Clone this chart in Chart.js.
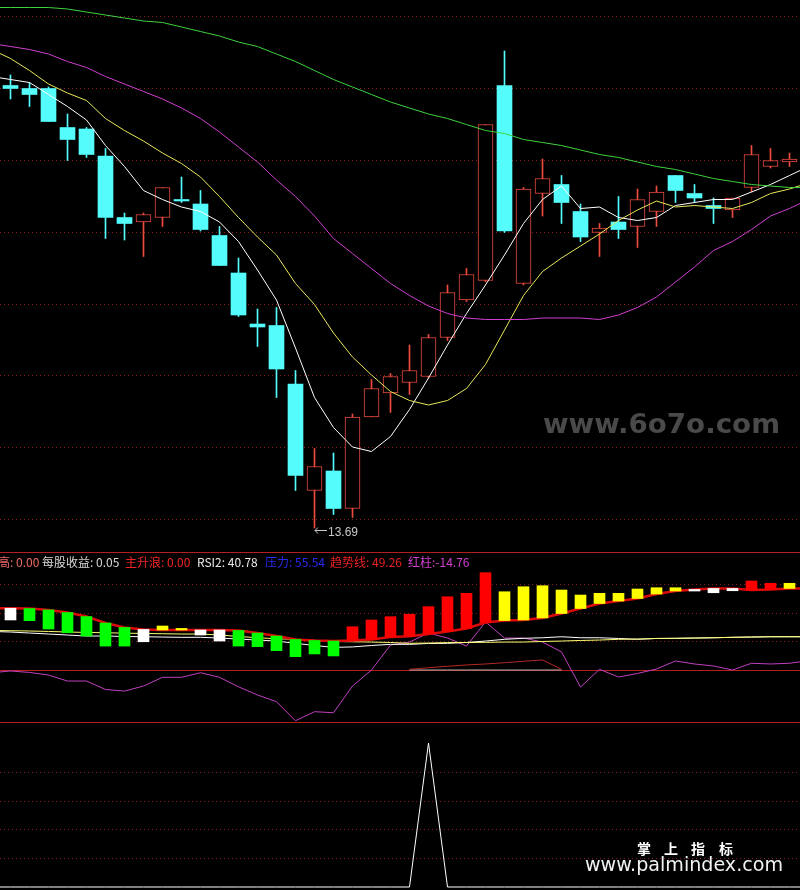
<!DOCTYPE html>
<html lang="zh-CN">
<head>
<meta charset="UTF-8">
<meta name="viewport" content="width=device-width, initial-scale=1.0">
<title>主升浪 日线</title>
<script src="https://cdn.jsdelivr.net/npm/chart.js"></script>
<style>
  html, body { margin: 0; padding: 0; background: #000; }
  body { width: 800px; height: 890px; overflow: hidden; }
  .pane { width: 800px; }
  .pane + .pane { border-top: 1px solid #b41e1e; }
  canvas { display: block; }
</style>
</head>
<body>
<div class="pane"><canvas id="kChart" width="800" height="552"></canvas></div>
<div class="pane"><canvas id="zsChart" width="800" height="169"></canvas></div>
<div class="pane"><canvas id="sigChart" width="800" height="167"></canvas></div>
<script>
// ---- 日K线, 42 根 ----
var opens  = [16.64,16.62,16.62,16.36,16.35,16.17,15.76,15.73,15.76,15.88,15.85,15.64,15.39,15.05,15.04,14.65,13.94,14.07,13.82,14.43,14.59,
              14.66,14.70,14.96,15.21,15.34,16.64,15.32,15.92,15.98,15.80,15.66,15.73,15.70,15.80,16.04,15.92,15.84,15.81,15.96,16.10,16.13];
var highs  = [16.71,16.66,16.63,16.45,16.36,16.22,15.79,15.79,15.96,16.03,15.94,15.70,15.49,15.15,15.16,14.74,14.22,14.19,14.45,14.68,14.72,
              14.91,14.98,15.31,15.42,16.38,16.87,15.96,16.15,16.04,15.85,15.72,15.90,15.95,15.97,16.04,15.98,15.89,15.89,16.24,16.22,16.19];
var lows   = [16.55,16.50,16.40,16.14,16.16,15.62,15.61,15.50,15.70,15.86,15.67,15.44,15.10,14.90,14.56,13.94,13.69,13.78,13.76,14.43,14.46,
              14.58,14.69,14.94,15.20,15.33,15.66,15.31,15.77,15.72,15.60,15.50,15.62,15.56,15.70,15.86,15.86,15.72,15.76,15.93,16.09,16.10];
var closes = [16.62,16.58,16.40,16.28,16.18,15.76,15.72,15.78,15.96,15.87,15.68,15.44,15.11,15.03,14.75,14.04,14.10,13.82,14.43,14.62,14.70,
              14.74,14.96,15.26,15.38,16.38,15.67,15.95,16.02,15.86,15.63,15.69,15.68,15.88,15.93,15.94,15.89,15.82,15.89,16.18,16.14,16.15];

// 均线: 从第 -1 根到第 42 根 (两头各多一根, 铺满画面)
var ma5  = [16.70,16.68,16.66,16.58,16.50,16.41,16.24,16.10,15.94,15.88,15.83,15.80,15.73,15.60,15.41,15.21,14.89,14.56,14.36,14.23,14.20,14.30,
            14.48,14.69,14.91,15.12,15.31,15.51,15.72,15.88,15.97,15.82,15.83,15.76,15.74,15.76,15.84,15.86,15.88,15.88,15.93,15.98,16.04,16.10];
var ma10 = [16.88,16.82,16.74,16.65,16.59,16.54,16.42,16.34,16.27,16.19,16.12,16.03,15.90,15.76,15.63,15.51,15.32,15.18,14.99,14.83,14.71,14.60,
            14.54,14.51,14.54,14.62,14.78,15.01,15.24,15.40,15.49,15.57,15.65,15.74,15.81,15.87,15.83,15.84,15.83,15.82,15.86,15.92,15.95,15.99];
var ma20 = [16.92,16.90,16.88,16.85,16.80,16.76,16.70,16.65,16.60,16.55,16.49,16.42,16.33,16.23,16.13,16.01,15.90,15.77,15.62,15.52,15.42,15.32,
            15.24,15.17,15.12,15.09,15.08,15.08,15.08,15.09,15.09,15.09,15.08,15.11,15.16,15.23,15.33,15.43,15.54,15.60,15.68,15.77,15.82,15.88];
var ma60 = [17.16,17.16,17.16,17.16,17.15,17.13,17.11,17.09,17.07,17.06,17.03,17.00,16.97,16.93,16.90,16.85,16.80,16.74,16.68,16.63,16.58,16.53,
            16.49,16.45,16.42,16.38,16.34,16.32,16.28,16.26,16.24,16.21,16.18,16.16,16.13,16.10,16.08,16.05,16.02,16.00,15.98,15.97,15.96,15.96];

// ---- 副图 主升浪 ----
var trendLine  = [43.1,43.1,42.9,41.9,40.1,37.3,32.8,29.7,28.3,27.9,27.9,27.9,27.9,27.6,25.8,23.7,21.3,20.6,20.2,20.6,21.3,23.0,
                  23.5,25.1,26.9,29.0,33.1,34.5,34.9,36.3,39.4,42.9,46.4,48.1,49.9,53.0,55.1,56.2,56.9,56.9,55.8,56.2,56.9,56.9];
var barEnd     = [34.9,34.4,28.6,26.0,23.7,16.7,16.7,19.7,30.7,29.0,24.4,20.2,16.7,16.3,13.5,9.3,11.2,9.8,30.2,34.9,37.2,
                  38.9,44.2,51.1,53.5,67.9,54.6,58.1,58.8,55.8,52.3,53.5,53.5,56.5,57.4,57.4,55.1,53.9,55.3,62.1,60.5,60.5];
var barKind    = 'WGGGGGGWYYWWGGGGGGRRRRRRRRYYYYYYYYYYWWWRRY'.split('');
var whiteLine  = [26.9,26.5,25.8,25.1,24.4,23.7,23.7,23.4,23.2,23.0,22.8,22.8,22.3,21.6,20.9,20.2,18.6,17.1,15.8,16.1,17.1,17.9,
                  17.9,18.5,18.6,19.2,20.2,21.4,22.1,22.5,23.2,22.5,22.5,22.0,21.4,22.0,22.1,22.3,22.5,22.8,23.0,23.2,23.2,23.2];
var yellowLine = [27.6,27.4,27.2,26.9,26.5,26.2,26.0,25.7,25.5,25.3,25.1,25.1,24.4,23.4,22.5,21.8,21.4,20.7,19.9,19.7,19.5,19.2,
                  18.6,18.8,19.1,19.2,19.3,19.5,19.5,19.9,20.2,20.6,20.9,21.4,21.6,22.0,22.1,22.3,22.5,22.8,23.0,23.2,23.2,23.2];
var rsiLine    = [-1.9,-0.7,-1.7,-3.5,-7.7,-7.7,-13.6,-14.7,-11.2,-5.1,-5.1,-1.9,-5.1,-11.7,-17.4,-22.1,-35.4,-29.1,-29.8,-11.2,0.0,17.4,
                  19.5,25.8,22.3,16.7,33.5,22.3,22.3,19.5,12.6,-11.9,0.5,-4.9,-2.4,0.7,6.3,4.2,2.8,0.0,4.7,4.2,4.7,6.5];
var subStart   = 21;
var subLine    = [0.5,1.6,2.6,3.5,4.2,5.1,6.1,7.0,0.5];
var subBase    = [0,0,0,0,0,0,0,0,0];
var legendLabels = ['高', '每股收益', '主升浪', 'RSI2', '压力', '趋势线', '红柱'];
var legendValues = ['0.00', '0.05', '0.00', '40.78', '55.54', '49.26', '-14.76'];

// ---- 第三图 信号 (第 -1 到 42 根) ----
var spike = [0,0,0,0,0,0,0,0,0,0, 0,0,0,0,0,0,0,0,0,0, 0,0,0,1,0,0,0,0,0,0, 0,0,0,0,0,0,0,0,0,0, 0,0,0,0];

var RED = '#ee4b3f', CYAN = '#54fcfc';
var DOT = '#8c1c1c';

function pts(arr, start) {
    return arr.map(function (v, k) { return { x: k + start, y: v }; });
}
function line(arr, start, color, width, order) {
    return { type: 'line', data: pts(arr, start), borderColor: color, borderWidth: width || 1,
             pointRadius: 0, fill: false, tension: 0, order: order || 1 };
}
function xAxis() {
    // bar 图默认 offset: true, 这里关掉让 K 线位置和线图一致
    return { type: 'linear', min: -0.5526, max: 41.5526, offset: false, display: false };
}
function baseOptions(ymin, ymax, guideLines) {
    return {
        responsive: false, animation: false, devicePixelRatio: 1,
        layout: { padding: 0 },
        scales: { x: xAxis(), y: { min: ymin, max: ymax, display: false } },
        plugins: { legend: { display: false }, tooltip: { enabled: false }, guides: { lines: guideLines } }
    };
}

// 水平参考线
var guides = {
    id: 'guides',
    beforeDatasetsDraw: function (chart, args, opts) {
        var ctx = chart.ctx, ys = chart.scales.y, area = chart.chartArea;
        ctx.save();
        (opts.lines || []).forEach(function (g) {
            var y = Math.round(ys.getPixelForValue(g.value)) + 0.5;
            ctx.strokeStyle = g.color;
            ctx.lineWidth = 1;
            ctx.setLineDash(g.dash || []);
            ctx.beginPath();
            ctx.moveTo(area.left, y);
            ctx.lineTo(area.right, y);
            ctx.stroke();
        });
        ctx.restore();
    }
};

// ---------- 主图 ----------
var idx = opens.map(function (v, i) { return i; });
var up = idx.map(function (i) { return closes[i] >= opens[i]; });

var mainGuides = [];
for (var k = 0; k < 8; k++) mainGuides.push({ value: 13.75 + 0.4786 * k, color: DOT, dash: [1, 3] });

var kMarks = {
    id: 'kMarks',
    beforeDatasetsDraw: function (chart) {
        var ctx = chart.ctx;
        ctx.save();
        ctx.font = 'bold 26px "DejaVu Sans"';
        var t = 'www.6o7o.com', w = ctx.measureText(t).width;
        ctx.fillStyle = '#4a4a4a';
        ctx.translate(543, 433);
        ctx.scale(237 / w, 1);
        ctx.fillText(t, 0, 0);
        ctx.restore();
    },
    afterDatasetsDraw: function (chart) {
        var ctx = chart.ctx;
        var lo = Math.min.apply(null, lows), i = lows.indexOf(lo);
        var x = Math.floor(chart.scales.x.getPixelForValue(i));
        var y = Math.round(chart.scales.y.getPixelForValue(lo)) + 2.5;
        ctx.save();
        ctx.strokeStyle = '#c8c8c8';
        ctx.lineWidth = 1;
        ctx.beginPath();
        ctx.moveTo(x + 1, y); ctx.lineTo(x + 13, y);
        ctx.moveTo(x + 4, y - 3); ctx.lineTo(x + 1, y); ctx.lineTo(x + 4, y + 3);
        ctx.stroke();
        ctx.fillStyle = '#c8c8c8';
        ctx.font = '12px "Liberation Sans"';
        ctx.fillText(lo.toFixed(2), x + 14, y + 5);
        ctx.restore();
    }
};

new Chart(document.getElementById('kChart'), {
    type: 'bar',
    data: {
        datasets: [
            { data: idx.map(function (i) { return { x: i, y: [lows[i], highs[i]] }; }),
              backgroundColor: up.map(function (u) { return u ? RED : CYAN; }),
              barThickness: 1, grouped: false, order: 3 },
            { data: idx.map(function (i) { return { x: i, y: [opens[i], closes[i]] }; }),
              backgroundColor: up.map(function (u) { return u ? '#000000' : CYAN; }),
              borderColor: up.map(function (u) { return u ? RED : CYAN; }),
              borderWidth: up.map(function (u) { return u ? 1 : 0; }),
              borderSkipped: false, barThickness: 15, minBarLength: 1, grouped: false, order: 2 },
            line(ma60, -1, '#3ed23e'),
            line(ma20, -1, '#d040d0'),
            line(ma10, -1, '#e8e85a'),
            line(ma5, -1, '#ffffff')
        ]
    },
    options: baseOptions(13.53, 17.21, mainGuides),
    plugins: [guides, kMarks]
});

// ---------- 副图 ----------
var kindColor = { R: '#ff0000', Y: '#ffff00', G: '#00ff00', W: '#ffffff' };

var zsLegend = {
    id: 'zsLegend',
    afterDraw: function (chart) {
        var ctx = chart.ctx;
        var xs = [-2, 42, 125, 197, 265, 330, 408];
        var colors = ['#f06a6a', '#d8d8d8', '#f02424', '#e8e8e8', '#2a2af0', '#e82020', '#d040d0'];
        ctx.save();
        ctx.font = '12px "Noto Sans CJK SC"';
        legendLabels.forEach(function (lab, j) {
            var sep = legendValues[j].charAt(0) === '-' ? ':' : ': ';
            ctx.fillStyle = colors[j];
            ctx.fillText(lab + sep + legendValues[j], xs[j], 13.5);
        });
        ctx.restore();
    }
};

new Chart(document.getElementById('zsChart'), {
    type: 'bar',
    data: {
        datasets: [
            { data: idx.map(function (i) { return { x: i, y: [trendLine[i + 1], barEnd[i]] }; }),
              backgroundColor: barKind.map(function (c) { return kindColor[c]; }),
              barThickness: 11, grouped: false, order: 1 },
            line(trendLine, -1, '#dd0a0a', 2.5, 2),
            line(yellowLine, -1, '#ffff70', 1, 3),
            line(whiteLine, -1, '#ffffff', 1, 4),
            line(subLine, subStart, '#b42828', 1, 5),
            line(subBase, subStart, '#b4b4b4', 1, 6),
            line(rsiLine, -1, '#c040c0', 1, 7)
        ]
    },
    options: baseOptions(-36.28, 81.63, [
        { value: 60, color: DOT, dash: [1, 3] },
        { value: 40, color: DOT, dash: [1, 3] },
        { value: 20, color: DOT, dash: [1, 3] },
        { value: 0, color: '#b41e1e' }
    ]),
    plugins: [guides, zsLegend]
});

// ---------- 信号图 ----------
var sigMarks = {
    id: 'sigMarks',
    afterDraw: function (chart) {
        var ctx = chart.ctx;
        ctx.save();
        ctx.fillStyle = '#ffffff';
        ctx.font = 'bold 14px "Noto Sans CJK SC"';
        ctx.textAlign = 'center';
        ctx.textBaseline = 'middle';
        var cx = [644, 671, 698, 726];
        '掌上指标'.split('').forEach(function (c, j) { ctx.fillText(c, cx[j], 125.5); });
        ctx.textAlign = 'left';
        ctx.textBaseline = 'alphabetic';
        ctx.font = '20px "DejaVu Sans"';
        var t = 'www.palmindex.com', w = ctx.measureText(t).width;
        ctx.fillStyle = '#f2f2f2';
        ctx.translate(585, 148);
        ctx.scale(198 / w, 1);
        ctx.fillText(t, 0, 0);
        ctx.restore();
    }
};

new Chart(document.getElementById('sigChart'), {
    type: 'line',
    data: { datasets: [ line(spike, -1, '#ffffff') ] },
    options: baseOptions(-0.0208, 1.1389, [
        { value: 0.8, color: DOT, dash: [1, 3] },
        { value: 0.6, color: DOT, dash: [1, 3] },
        { value: 0.4, color: DOT, dash: [1, 3] },
        { value: 0.2, color: DOT, dash: [1, 3] }
    ]),
    plugins: [guides, sigMarks]
});
</script>
</body>
</html>
